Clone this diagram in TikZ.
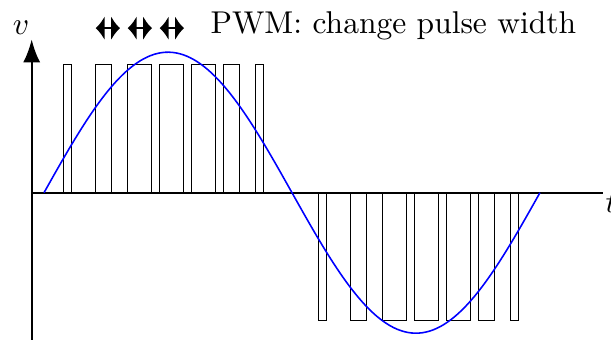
\documentclass[tikz,border=0pt]{standalone}
\usepackage{tikz}
\usetikzlibrary{arrows.meta,positioning}

\begin{document}
\begin{tikzpicture}[x=0.357cm, y=0.357cm,
  font=\normalsize,
  axis/.style={line width=0.65pt, draw=black},
  pulse/.style={line width=0.45pt, draw=black},
  wave/.style={line width=0.5pt, draw=blue},
  span/.style={{Latex[length=2.8pt,width=7.6pt]}-{Latex[length=2.8pt,width=7.6pt]}, line width=0.45pt},
  lbl/.style={inner sep=0pt}
]
\useasboundingbox (-0.99,-4.58) rectangle (18.1,6.02);
% ================= axes =================
\coordinate (O) at (0,0);
\coordinate (vbot) at (0,-4.7);
\coordinate (vtop) at (0,4.79);
\coordinate (tend) at (17.85,0);
\draw[axis, -{Latex[length=7.3pt,width=5.4pt]}] (vbot) -- (vtop);
\draw[axis] (O) -- (tend);
\node[lbl, anchor=base] (vlab) at (-0.33,4.95) {$v$};
\node[lbl, anchor=north west] (tlab) at ([xshift=0.6pt]tend) {$t$};
% ================= pulse train =================
\draw[pulse] (1,0) rectangle (1.25,4)
  (2,0) rectangle (2.5,4)
  (3,0) rectangle (3.75,4)
  (4,0) rectangle (4.75,4)
  (5,0) rectangle (5.75,4)
  (6,0) rectangle (6.5,4)
  (7,0) rectangle (7.25,4);
\draw[pulse] (8.96,0) rectangle (9.21,-4)
  (9.96,0) rectangle (10.46,-4)
  (10.96,0) rectangle (11.71,-4)
  (11.96,0) rectangle (12.71,-4)
  (12.96,0) rectangle (13.71,-4)
  (13.96,0) rectangle (14.46,-4)
  (14.96,0) rectangle (15.21,-4);
% ================= reference sine =================
\draw[wave] plot[domain=0.385:15.88, samples=140, smooth] (\x, {4.39*sin((\x-0.385)*360/15.495)});
% ================= pulse width markers =================
\coordinate (wa1) at (2,5.14);  \coordinate (wb1) at (2.76,5.14);
\coordinate (wa2) at (3,5.14);  \coordinate (wb2) at (3.76,5.14);
\coordinate (wa3) at (4,5.14);  \coordinate (wb3) at (4.76,5.14);
\draw[span] (wa1) -- (wb1);
\draw[span] (wa2) -- (wb2);
\draw[span] (wa3) -- (wb3);
\node[lbl, anchor=base west] (title) at (5.57,4.97) {PWM: change pulse width};
\end{tikzpicture}
\end{document}
